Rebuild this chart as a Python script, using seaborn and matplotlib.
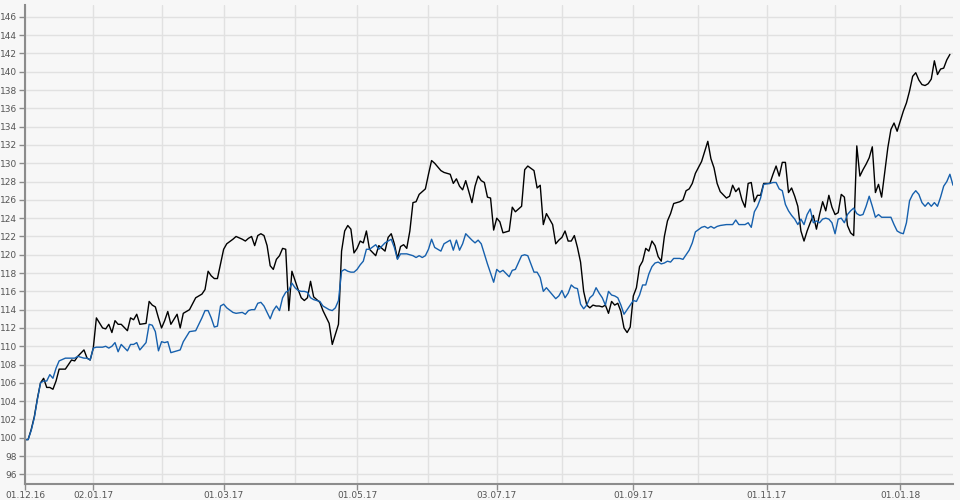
import matplotlib
matplotlib.use("Agg")

import numpy as np
import pandas as pd
import matplotlib.pyplot as plt
import seaborn as sns

# dias úteis contados a partir de 01.12.16 e valores
trading_day = [
    0, 1, 2, 3, 4, 5, 6, 7, 8, 9, 10, 11, 13, 15, 16, 17, 19, 20, 21, 22,
    23, 25, 26, 27, 28, 29, 30, 31, 33, 34, 35, 36, 37, 39, 40, 41, 42, 43, 44, 45,
    46, 47, 49, 50, 51, 53, 55, 57, 58, 59, 60, 61, 62, 63, 64, 65, 67, 68, 70, 71,
    72, 73, 74, 75, 76, 77, 78, 79, 80, 81, 82, 83, 84, 85, 86, 87, 88, 89, 90, 91,
    92, 93, 95, 96, 98, 99, 100, 101, 102, 103, 104, 105, 106, 107, 108, 109, 110, 111, 113, 114,
    116, 117, 118, 119, 120, 121, 122, 123, 124, 125, 126, 127, 128, 129, 130, 131, 132, 134, 135, 137,
    138, 139, 140, 141, 142, 144, 145, 146, 147, 148, 149, 150, 151, 152, 153, 154, 156, 157, 158, 160,
    161, 162, 164, 165, 166, 167, 168, 170, 171, 172, 173, 174, 175, 176, 177, 178, 179, 180, 181, 182,
    183, 184, 185, 186, 187, 188, 189, 190, 191, 192, 193, 194, 195, 196, 197, 198, 199, 200, 201, 202,
    203, 204, 205, 206, 207, 208, 209, 211, 212, 213, 214, 215, 216, 218, 219, 220, 221, 222, 223, 224,
    226, 227, 228, 229, 230, 231, 232, 233, 234, 235, 236, 237, 238, 240, 241, 242, 243, 244, 245, 246,
    247, 248, 249, 250, 251, 252, 253, 254, 255, 256, 257, 258, 259, 260, 261, 262, 263, 264, 265, 266,
    267, 268, 269, 270, 271, 272, 273, 274, 275, 276, 277, 278, 279, 280, 281, 282, 283, 284, 285, 286,
    287, 288, 289, 290, 291, 292, 293, 294, 295, 296, 297, 298, 299,
]

black_line = [
    99.8, 99.8, 100.9, 102.3, 104.3, 106.0, 106.5, 105.5, 105.5, 105.3, 106.2, 107.5, 107.5, 108.5, 108.4, 108.9, 109.6, 108.7, 108.5, 109.8,
    113.1, 112.0, 111.9, 112.4, 111.5, 112.8, 112.4, 112.4, 111.7, 113.1, 112.9, 113.5, 112.4, 112.5, 114.9, 114.5, 114.3, 113.1, 112.0, 112.8,
    113.8, 112.4, 113.5, 112.0, 113.6, 114.0, 115.3, 115.7, 116.2, 118.2, 117.7, 117.4, 117.4, 119.0, 120.6, 121.2, 121.7, 122.0, 121.7, 121.5,
    121.8, 122.0, 121.0, 122.1, 122.3, 122.1, 121.0, 118.8, 118.4, 119.5, 119.9, 120.7, 120.6, 113.9, 118.2, 117.2, 116.2, 115.3, 115.0, 115.3,
    117.1, 115.4, 114.8, 113.9, 112.5, 110.2, 111.3, 112.4, 120.4, 122.6, 123.2, 122.8, 120.2, 120.7, 121.5, 121.3, 122.6, 120.6, 119.9, 121.0,
    120.4, 121.9, 122.3, 121.2, 119.6, 120.9, 121.1, 120.7, 122.6, 125.7, 125.8, 126.6, 126.9, 127.2, 128.8, 130.3, 130.0, 129.2, 129.0, 128.8,
    127.8, 128.3, 127.5, 127.1, 128.1, 125.7, 127.5, 128.6, 128.1, 127.9, 126.3, 126.2, 122.7, 124.0, 123.6, 122.4, 122.6, 125.2, 124.7, 125.3,
    129.3, 129.7, 129.2, 127.3, 127.6, 123.3, 124.5, 123.3, 121.2, 121.6, 121.9, 122.6, 121.5, 121.5, 122.1, 120.8, 119.2, 116.0, 114.5, 114.2,
    114.5, 114.4, 114.4, 114.3, 114.5, 113.6, 114.9, 114.5, 114.7, 113.8, 112.0, 111.5, 112.1, 115.5, 116.4, 118.7, 119.3, 120.7, 120.4, 121.5,
    121.0, 119.8, 119.3, 122.0, 123.7, 124.5, 125.6, 125.8, 126.0, 127.0, 127.2, 127.8, 128.9, 130.2, 131.3, 132.4, 130.5, 129.5, 127.8, 126.9,
    126.2, 126.4, 127.6, 126.9, 127.3, 126.0, 125.2, 127.8, 127.9, 125.8, 126.5, 126.5, 127.8, 127.8, 128.8, 129.7, 128.6, 130.1, 130.1, 126.8,
    127.3, 126.4, 125.3, 122.6, 121.5, 122.6, 123.5, 124.3, 122.8, 124.4, 125.8, 124.8, 126.5, 125.2, 124.4, 124.6, 126.6, 126.3, 123.2, 122.4,
    122.1, 131.9, 128.6, 129.3, 129.9, 130.6, 131.8, 126.8, 127.7, 126.3, 129.0, 131.7, 133.7, 134.4, 133.5, 134.6, 135.7, 136.6, 137.9, 139.5,
    139.9, 139.1, 138.6, 138.5, 138.7, 139.2, 141.2, 139.7, 140.3, 140.4, 141.3, 141.9, np.nan,
]

blue_line = [
    99.8, 99.8, 100.8, 102.2, 104.2, 106.0, 106.2, 106.2, 106.9, 106.5, 107.6, 108.4, 108.7, 108.7, 108.7, 108.9, 108.7, 108.7, 108.5, 109.8,
    109.9, 109.9, 110.0, 109.8, 110.0, 110.4, 109.4, 110.2, 109.5, 110.2, 110.2, 110.4, 109.6, 110.4, 112.4, 112.3, 111.6, 109.5, 110.5, 110.4,
    110.5, 109.3, 109.5, 109.6, 110.5, 111.6, 111.7, 113.1, 113.9, 113.9, 113.1, 112.1, 112.2, 114.4, 114.6, 114.2, 113.7, 113.6, 113.7, 113.5,
    113.9, 114.0, 114.0, 114.7, 114.8, 114.4, 113.7, 113.0, 113.9, 114.4, 113.9, 115.3, 115.9, 116.1, 116.9, 116.4, 116.1, 116.0, 116.0, 115.9,
    115.3, 115.1, 114.9, 114.4, 114.0, 113.9, 114.2, 115.0, 118.2, 118.4, 118.2, 118.1, 118.1, 118.4, 118.9, 119.3, 120.6, 120.6, 121.1, 120.6,
    121.3, 121.5, 121.7, 120.8, 119.5, 120.1, 120.1, 120.1, 120.0, 119.9, 119.7, 119.9, 119.7, 119.9, 120.6, 121.7, 120.8, 120.4, 121.2, 121.6,
    120.5, 121.6, 120.5, 121.2, 122.3, 121.6, 121.3, 121.6, 121.2, 120.1, 119.0, 118.0, 117.0, 118.4, 118.1, 118.3, 117.6, 118.3, 118.4, 119.9,
    120.0, 119.9, 118.1, 118.1, 117.5, 116.0, 116.4, 115.6, 115.2, 115.5, 116.1, 115.3, 115.8, 116.7, 116.4, 116.3, 114.6, 114.1, 114.5, 115.3,
    115.6, 116.4, 115.8, 115.3, 114.5, 116.0, 115.6, 115.5, 115.3, 114.5, 113.5, 114.0, 114.5, 115.0, 114.9, 115.6, 116.7, 116.7, 117.9, 118.7,
    119.1, 119.2, 119.0, 119.1, 119.3, 119.2, 119.6, 119.6, 119.5, 120.0, 120.5, 121.3, 122.5, 123.0, 123.1, 122.9, 123.1, 122.9, 123.1, 123.2,
    123.3, 123.3, 123.3, 123.8, 123.3, 123.3, 123.3, 123.5, 123.0, 124.7, 125.3, 126.2, 127.7, 127.8, 127.9, 127.9, 127.2, 127.0, 125.5, 124.8,
    124.3, 123.9, 123.3, 123.9, 123.3, 124.4, 125.0, 123.5, 123.7, 123.5, 123.9, 124.0, 123.9, 123.5, 122.3, 123.9, 124.0, 123.5, 124.4, 124.8,
    125.1, 124.5, 124.3, 124.4, 125.3, 126.4, 125.3, 124.1, 124.4, 124.1, 124.1, 124.1, 124.1, 123.3, 122.6, 122.4, 122.3, 123.5, 125.9, 126.6,
    127.0, 126.6, 125.7, 125.3, 125.7, 125.3, 125.7, 125.3, 126.3, 127.5, 128.0, 128.8, 127.6,
]

# meses com rótulo no eixo x
labelled_months = ["2016-12", "2017-01", "2017-03", "2017-05", "2017-07",
                   "2017-09", "2017-11", "2018-01"]

BG = "#f7f7f7"

sns.set_theme(style="whitegrid", rc={
    "axes.facecolor": BG,
    "figure.facecolor": BG,
    "grid.color": "#e1e1e1",
    "grid.linewidth": 1.0,
})
plt.rcParams["font.family"] = ["DejaVu Sans"]


def main():
    dates = pd.bdate_range("2016-12-01", periods=300)
    meses = pd.Series(np.arange(len(dates)), index=dates.to_period("M"))
    inicio_mes = meses.groupby(level=0).first()

    df = pd.DataFrame({"dia": trading_day, "preto": black_line, "azul": blue_line})
    longo = df.melt(id_vars="dia", var_name="serie", value_name="valor").dropna()

    fig = plt.figure(figsize=(9.6, 5.0), dpi=100)
    ax = fig.add_axes([25 / 960, 1 - 483.5 / 500, 928 / 960, 478.5 / 500])

    sns.lineplot(data=longo, x="dia", y="valor", hue="serie",
                 palette={"preto": "#000000", "azul": "#1660ad"},
                 hue_order=["preto", "azul"], estimator=None,
                 linewidth=1.0, legend=False, ax=ax)

    ax.set_xlim(0, 299)
    ax.set_ylim(95, 147.3)

    maj = [inicio_mes[pd.Period(m, "M")] for m in labelled_months]
    ax.set_xticks(maj)
    ax.set_xticklabels([dates[i].strftime("%d.%m.%y") for i in maj])
    ax.set_xticks(inicio_mes.values, minor=True)
    ax.set_yticks(np.arange(96, 147, 2))

    ax.grid(True, which="both", axis="x")
    ax.grid(True, which="major", axis="y")
    ax.tick_params(axis="both", which="major", labelsize=6.5, labelcolor="#555555",
                   color="#8c8c8c", length=4, width=1, direction="out",
                   bottom=True, left=True, pad=1.5)
    ax.tick_params(axis="x", which="minor", length=0)

    for lado in ["top", "right"]:
        ax.spines[lado].set_visible(False)
    for lado in ["left", "bottom"]:
        ax.spines[lado].set_color("#8c8c8c")
        ax.spines[lado].set_linewidth(1.5)

    ax.set_xlabel("")
    ax.set_ylabel("")

    fig.savefig("out.png", dpi=100, facecolor=BG)
    plt.close(fig)


if __name__ == "__main__":
    main()
